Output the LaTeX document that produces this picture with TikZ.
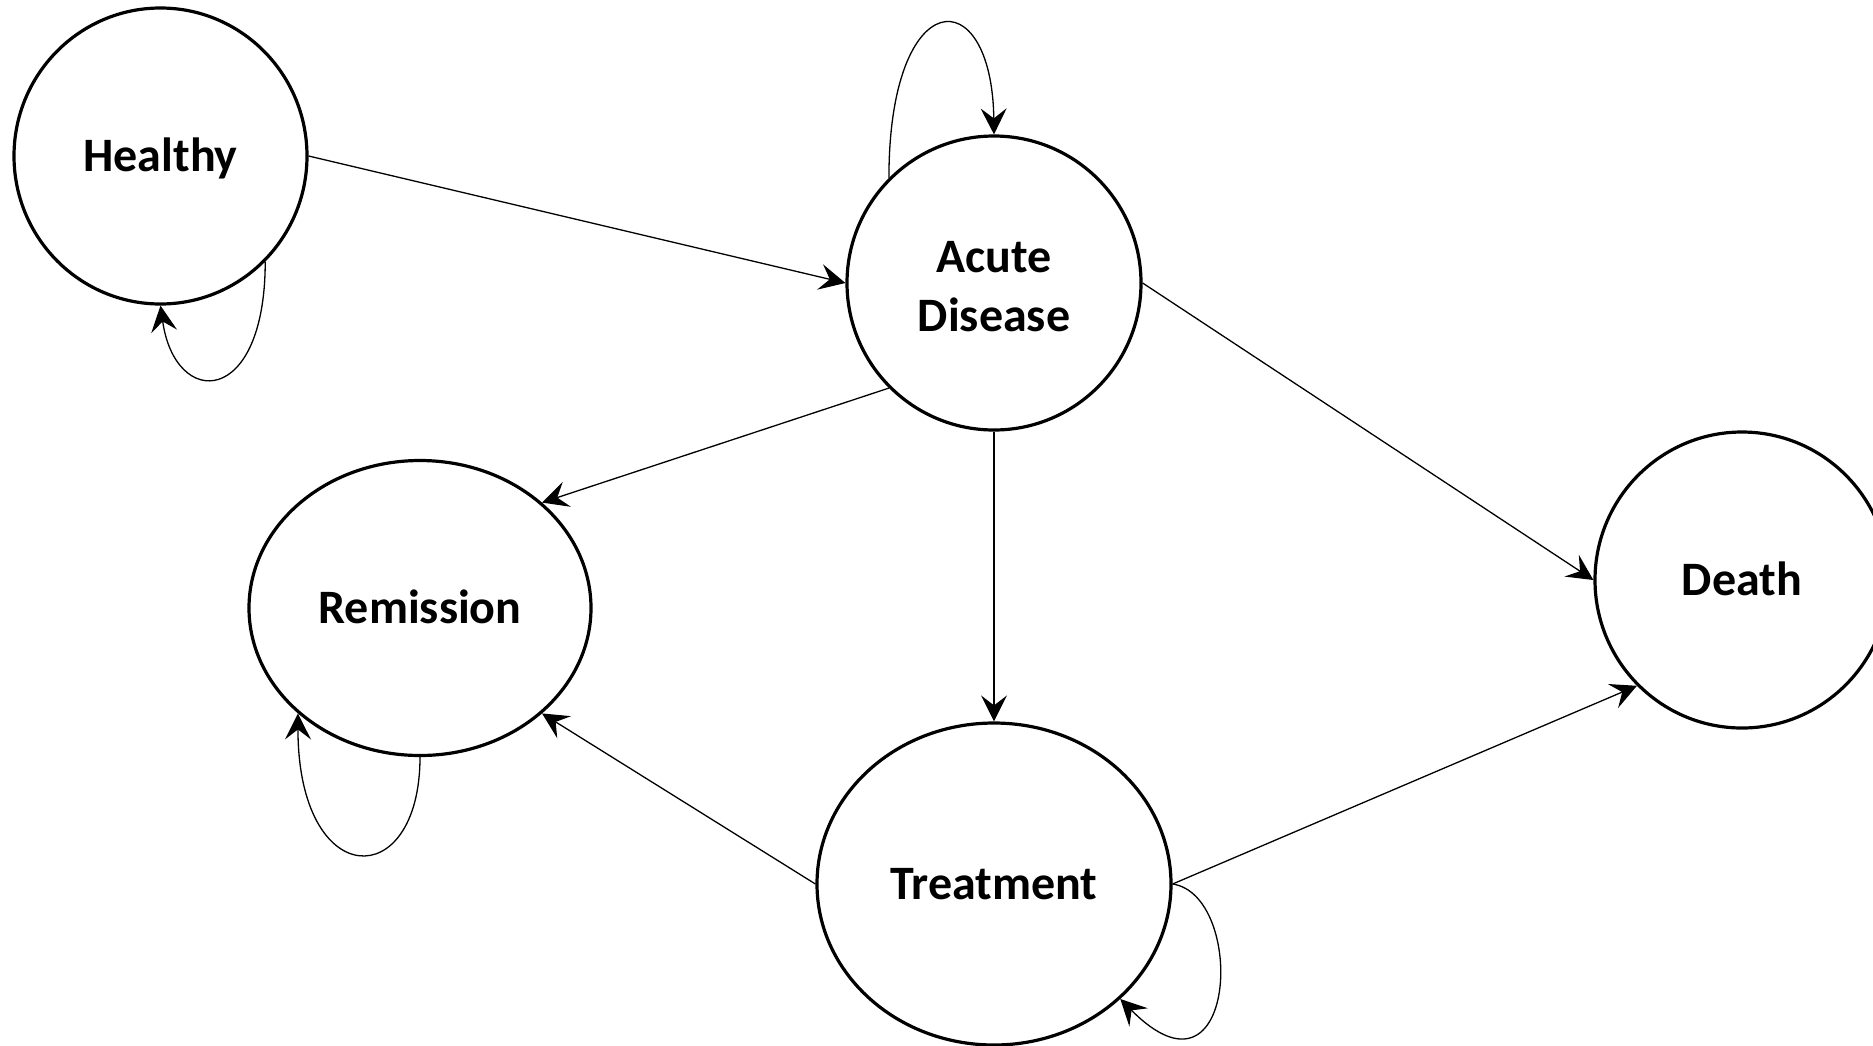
\documentclass[tikz,border=0pt]{standalone}
\usepackage{fontspec}
\setmainfont{Carlito}
\usetikzlibrary{shapes.geometric,arrows.meta}
\begin{document}
\begin{tikzpicture}[x=0.5pt,y=-0.5pt,
  state/.style={ellipse,draw,line width=1.6pt,inner sep=0pt,align=center,
    font=\fontsize{24}{29.3}\selectfont\bfseries},
  oneline/.style={text height=17pt,text depth=2pt},
  conn/.style={line width=0.65pt,-{Stealth[length=13pt,width=13pt,inset=5pt]}}]
\useasboundingbox (0,0) rectangle (1873,1045);
\node[state,oneline,minimum width=146.5pt,minimum height=148pt] (healthy) at (160.5,156) {Healthy};
\node[state,minimum width=147pt,minimum height=147pt] (acute) at (994,283) {\rule{0pt}{19pt}Acute\\Disease};
\node[state,oneline,minimum width=171pt,minimum height=147.5pt] (remission) at (420,608) {Remission};
\node[state,oneline,minimum width=147pt,minimum height=148pt] (death) at (1742,580) {Death};
\node[state,oneline,minimum width=177pt,minimum height=161pt] (treatment) at (994,884) {Treatment};

\draw[conn] (healthy.east) -- (acute.west);
\draw[conn] (acute.south west) -- (remission.north east);
\draw[conn] (acute.south) -- (treatment.north);
\draw[conn] (acute.east) -- (death.west);
\draw[conn] (treatment.west) -- (remission.south east);
\draw[conn] (treatment.east) -- (death.south west);

\draw[conn] (healthy.south east) .. controls +(0,146) and +(14.5,104) .. (healthy.south);
\draw[conn] (acute.north west) .. controls +(0,-195) and +(-2,-156) .. (acute.north);
\draw[conn] (remission.south) .. controls +(0,137) and +(0,179) .. (remission.south west);
\draw[conn] (treatment.east) .. controls +(74,11) and +(117,118) .. (treatment.south east);
\end{tikzpicture}
\end{document}
